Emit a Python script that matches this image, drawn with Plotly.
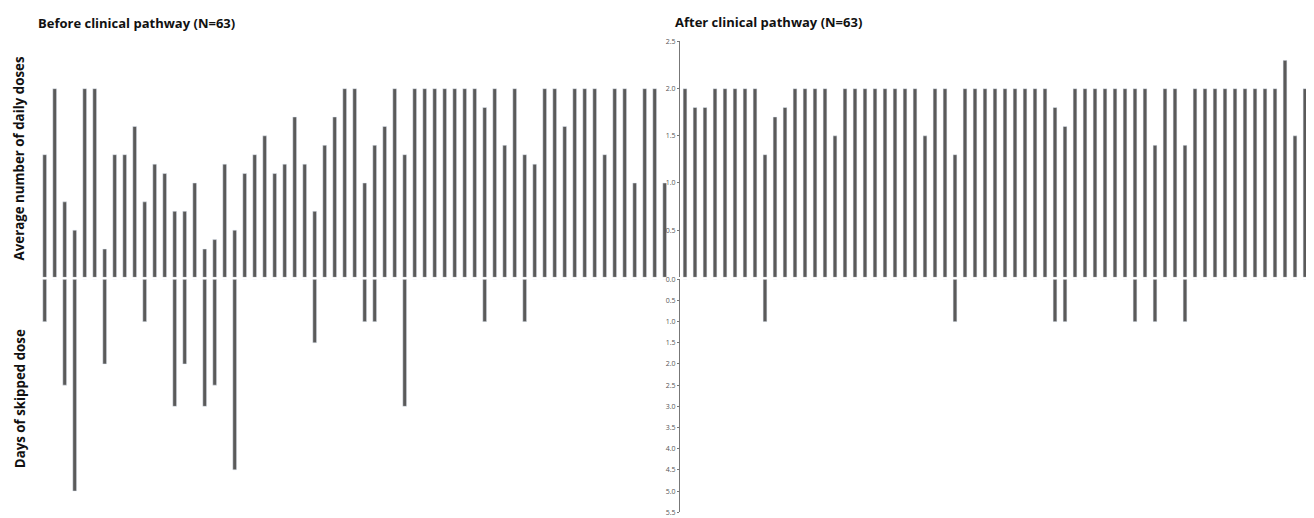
import plotly.graph_objects as go

# Before clinical pathway (N=63)
before_doses = [1.3, 2.0, 0.8, 0.5, 2.0, 2.0, 0.3, 1.3, 1.3, 1.6,
                0.8, 1.2, 1.1, 0.7, 0.7, 1.0, 0.3, 0.4, 1.2, 0.5,
                1.1, 1.3, 1.5, 1.1, 1.2, 1.7, 1.2, 0.7, 1.4, 1.7,
                2.0, 2.0, 1.0, 1.4, 1.6, 2.0, 1.3, 2.0, 2.0, 2.0,
                2.0, 2.0, 2.0, 2.0, 1.8, 2.0, 1.4, 2.0, 1.3, 1.2,
                2.0, 2.0, 1.6, 2.0, 2.0, 2.0, 1.3, 2.0, 2.0, 1.0,
                2.0, 2.0, 1.0]
before_skipped = [1.0, 0, 2.5, 5.0, 0, 0, 2.0, 0, 0, 0,
                  1.0, 0, 0, 3.0, 2.0, 0, 3.0, 2.5, 0, 4.5,
                  0, 0, 0, 0, 0, 0, 0, 1.5, 0, 0,
                  0, 0, 1.0, 1.0, 0, 0, 3.0, 0, 0, 0,
                  0, 0, 0, 0, 1.0, 0, 0, 0, 1.0, 0,
                  0, 0, 0, 0, 0, 0, 0, 0, 0, 0,
                  0, 0, 0]

# After clinical pathway (N=63)
after_doses = [2.0, 1.8, 1.8, 2.0, 2.0, 2.0, 2.0, 2.0, 1.3, 1.7,
               1.8, 2.0, 2.0, 2.0, 2.0, 1.5, 2.0, 2.0, 2.0, 2.0,
               2.0, 2.0, 2.0, 2.0, 1.5, 2.0, 2.0, 1.3, 2.0, 2.0,
               2.0, 2.0, 2.0, 2.0, 2.0, 2.0, 2.0, 1.8, 1.6, 2.0,
               2.0, 2.0, 2.0, 2.0, 2.0, 2.0, 2.0, 1.4, 2.0, 2.0,
               1.4, 2.0, 2.0, 2.0, 2.0, 2.0, 2.0, 2.0, 2.0, 2.0,
               2.3, 1.5, 2.0]
after_skipped = [0, 0, 0, 0, 0, 0, 0, 0, 1.0, 0,
                 0, 0, 0, 0, 0, 0, 0, 0, 0, 0,
                 0, 0, 0, 0, 0, 0, 0, 1.0, 0, 0,
                 0, 0, 0, 0, 0, 0, 0, 1.0, 1.0, 0,
                 0, 0, 0, 0, 0, 1.0, 0, 1.0, 0, 0,
                 1.0, 0, 0, 0, 0, 0, 0, 0, 0, 0,
                 0, 0, 0]

patients = list(range(1, 64))

upper_ticks = [0.5, 1.0, 1.5, 2.0, 2.5]
lower_ticks = [0.0, 0.5, 1.0, 1.5, 2.0, 2.5, 3.0, 3.5, 4.0, 4.5, 5.0, 5.5]

BAR = "#5a5a5a"
W = 0.38

fig = go.Figure()
fig.add_trace(go.Bar(x=patients, y=before_doses, xaxis="x", yaxis="y",
                     marker_color=BAR, width=W, showlegend=False))
fig.add_trace(go.Bar(x=patients, y=before_skipped, xaxis="x", yaxis="y2",
                     marker_color=BAR, width=W, showlegend=False))
fig.add_trace(go.Bar(x=patients, y=after_doses, xaxis="x2", yaxis="y3",
                     marker_color=BAR, width=W, showlegend=False))
fig.add_trace(go.Bar(x=patients, y=after_skipped, xaxis="x2", yaxis="y4",
                     marker_color=BAR, width=W, showlegend=False))

H = 518.0
Wd = 1314.0
OX = 8.0  # page body margin compensation
OY = 8.0


def px(xp):
    return (xp - OX) / Wd


def py(yp):
    return 1 - (yp - OY) / H


up_dom = [py(277), py(37)]
lo_dom = [py(279 + 5.5 * 43.1), py(279)]
left_dom = [px(39.7), px(669.7)]
right_dom = [px(680), px(1310)]

hidden_x = dict(showgrid=False, zeroline=False, showticklabels=False,
                ticks="", showline=False, range=[0.5, 63.5])
hidden_y = dict(showgrid=False, zeroline=False, showticklabels=False,
                ticks="", showline=False)
tickfont = dict(family="Open Sans", size=7, color="#555555")
vis_y = dict(showgrid=False, zeroline=False, showline=True, linecolor="#777777",
             linewidth=1, ticks="outside", ticklen=2, tickcolor="#777777",
             tickfont=tickfont, tickformat=".1f")

fig.update_layout(
    width=1314, height=518,
    margin=dict(l=0, r=0, t=0, b=0),
    paper_bgcolor="white", plot_bgcolor="white",
    bargap=0.6,
    xaxis=dict(domain=left_dom, anchor="y", **hidden_x),
    xaxis2=dict(domain=right_dom, anchor="y3", **hidden_x),
    yaxis=dict(domain=up_dom, anchor="x", range=[0, 2.5], **hidden_y),
    yaxis2=dict(domain=lo_dom, anchor="x", range=[5.5, 0], **hidden_y),
    yaxis3=dict(domain=up_dom, anchor="x2", range=[0, 2.5],
                tickvals=upper_ticks, **vis_y),
    yaxis4=dict(domain=lo_dom, anchor="x2", range=[5.5, 0],
                tickvals=lower_ticks, **vis_y),
    font=dict(family="Open Sans", color="#111111"),
)

title_font = dict(family="Open Sans", size=13, color="#111111")
fig.add_annotation(text="<b>Before clinical pathway (N=63)</b>", x=px(36), y=py(18),
                   xref="paper", yref="paper", xanchor="left", yanchor="middle",
                   showarrow=False, font=title_font)
fig.add_annotation(text="<b>After clinical pathway (N=63)</b>", x=px(673), y=py(17),
                   xref="paper", yref="paper", xanchor="left", yanchor="middle",
                   showarrow=False, font=title_font)
side_font = dict(family="Open Sans", size=13.3, color="#111111")
fig.add_annotation(text="<b>Average number of daily doses</b>", x=px(19), y=py(156),
                   xref="paper", yref="paper", xanchor="center", yanchor="middle",
                   textangle=-90, showarrow=False, font=side_font)
fig.add_annotation(text="<b>Days of skipped dose</b>", x=px(20), y=py(401),
                   xref="paper", yref="paper", xanchor="center", yanchor="middle",
                   textangle=-90, showarrow=False, font=side_font)

fig.write_html("out.html")
